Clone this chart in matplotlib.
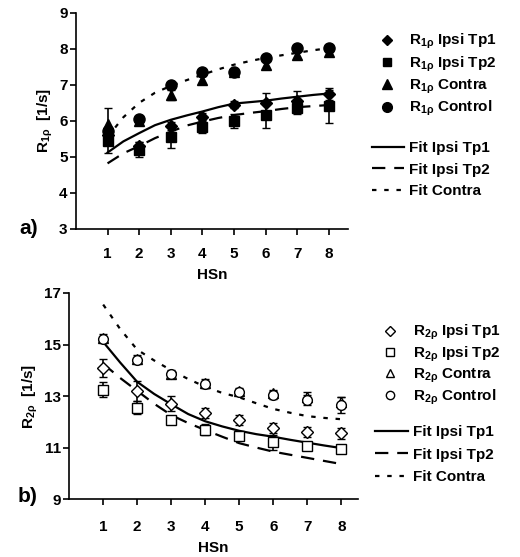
import numpy as np
import matplotlib
matplotlib.use("Agg")
import matplotlib.pyplot as plt
from matplotlib.lines import Line2D

plt.rcParams['font.family'] = ['Liberation Sans', 'DejaVu Sans']
plt.rcParams['font.weight'] = 'bold'
plt.rcParams['mathtext.fontset'] = 'custom'
plt.rcParams['mathtext.rm'] = 'Liberation Sans:bold'
plt.rcParams['mathtext.bf'] = 'Liberation Sans:bold'
plt.rcParams['mathtext.it'] = 'Liberation Sans:bold'

hsn = [1, 2, 3, 4, 5, 6, 7, 8]

# panel a: R1rho
r1_tp1 = [5.6, 5.3, 5.86, 6.12, 6.45, 6.5, 6.55, 6.75]
r1_tp1_err = [0.1, 0.1, 0.1, 0.1, 0.1, 0.28, 0.28, 0.17]
r1_tp2 = [5.45, 5.2, 5.55, 5.83, 6.0, 6.15, 6.35, 6.4]
r1_tp2_err = [0.35, 0.2, 0.3, 0.17, 0.2, 0.35, 0.15, 0.45]
r1_contra = [5.9, 6.0, 6.72, 7.14, 7.36, 7.55, 7.83, 7.92]
r1_contra_err = [0.45, 0.1, 0.15, 0.1, 0.08, 0.1, 0.1, 0.08]
r1_control = [5.72, 6.05, 7.0, 7.36, 7.36, 7.75, 8.03, 8.03]
r1_control_err = [0.1, 0.08, 0.08, 0.06, 0.06, 0.06, 0.05, 0.05]

fit_x = [1, 1.5, 2, 2.5, 3, 3.5, 4, 4.5, 5, 5.5, 6, 6.5, 7, 7.5, 8]
r1_fit_tp1 = [5.12, 5.43, 5.66, 5.88, 6.03, 6.15, 6.26, 6.38, 6.48, 6.52, 6.56, 6.62, 6.67, 6.72, 6.76]
r1_fit_tp2 = [4.82, 5.1, 5.3, 5.52, 5.7, 5.87, 5.98, 6.08, 6.16, 6.22, 6.27, 6.33, 6.38, 6.41, 6.44]
r1_fit_contra = [5.55, 6.1, 6.5, 6.78, 6.97, 7.13, 7.28, 7.43, 7.56, 7.66, 7.75, 7.82, 7.89, 7.96, 8.02]

# panel b: R2rho
r2_tp1 = [14.1, 13.2, 12.7, 12.33, 12.07, 11.77, 11.6, 11.55]
r2_tp1_err = [0.35, 0.4, 0.3, 0.2, 0.2, 0.2, 0.2, 0.2]
r2_tp2 = [13.25, 12.55, 12.07, 11.7, 11.45, 11.2, 11.05, 10.95]
r2_tp2_err = [0.3, 0.25, 0.12, 0.2, 0.15, 0.28, 0.15, 0.12]
r2_contra = [15.25, 14.45, 13.85, 13.5, 13.2, 13.1, 12.95, 12.75]
r2_contra_err = [0.15, 0.15, 0.15, 0.15, 0.1, 0.15, 0.2, 0.2]
r2_control = [15.2, 14.4, 13.85, 13.45, 13.15, 13.05, 12.85, 12.65]
r2_control_err = [0.1, 0.1, 0.1, 0.15, 0.1, 0.15, 0.2, 0.3]

r2_fit_tp1 = [15.1, 14.3, 13.55, 13.08, 12.68, 12.3, 12.02, 11.82, 11.65, 11.52, 11.42, 11.3, 11.19, 11.08, 10.98]
r2_fit_tp2 = [14.25, 13.7, 13.2, 12.7, 12.26, 11.95, 11.68, 11.42, 11.17, 11.0, 10.84, 10.72, 10.6, 10.48, 10.36]
r2_fit_contra = [16.55, 15.6, 14.8, 14.38, 14.0, 13.66, 13.36, 13.12, 12.95, 12.72, 12.5, 12.35, 12.22, 12.15, 12.1]

fig = plt.figure(figsize=(5.2, 5.57), dpi=100)
ax1 = fig.add_axes([0.146, 0.589, 0.523, 0.388])
ax2 = fig.add_axes([0.133, 0.104, 0.556, 0.370])

ls_dash = (0, (6, 4))
ls_dot = (0, (2, 3.5))


def style_axis(ax, xmax, yticks, xpad):
    ax.spines['top'].set_visible(False)
    ax.spines['right'].set_visible(False)
    ax.spines['left'].set_linewidth(1.2)
    ax.spines['bottom'].set_linewidth(1.2)
    ax.set_xlim(0, xmax)
    ax.set_xticks(hsn)
    ax.set_yticks(yticks)
    ax.set_ylim(yticks[0], yticks[-1])
    ax.tick_params(axis='x', length=4, width=1.2, pad=xpad, labelsize=11)
    ax.tick_params(axis='y', length=4, width=1.2, pad=2, labelsize=11)
    for lab in ax.get_xticklabels() + ax.get_yticklabels():
        lab.set_fontweight('bold')
    ax.set_xlabel('HSn', fontsize=11, fontweight='bold', labelpad=5)


def draw_panel(ax, series, fits, filled):
    markers = ['D', 's', '^', 'o']
    sizes = [6, 7, 7.5, 8] if filled else [6, 7, 7, 7]
    handles = []
    for (vals, errs), m, s in zip(series, markers, sizes):
        ax.errorbar(hsn, vals, yerr=errs, fmt=m, ms=s, color='black',
                    mfc='black' if filled else 'white', mec='black',
                    mew=1.0, ecolor='black', elinewidth=1.2, capsize=3,
                    capthick=1.2, zorder=3)
        handles.append(Line2D([], [], marker=m, ls='none', color='black',
                              mfc='black' if filled else 'white', mec='black',
                              ms=s - 1))
    lhs = []
    for vals, ls in zip(fits, ['-', ls_dash, ls_dot]):
        ax.plot(fit_x, vals, color='black', lw=1.6, ls=ls, zorder=2)
        lhs.append(Line2D([], [], color='black', lw=1.6, ls=ls))
    return handles, lhs


h1, l1 = draw_panel(ax1, [(r1_tp1, r1_tp1_err), (r1_tp2, r1_tp2_err),
                          (r1_contra, r1_contra_err), (r1_control, r1_control_err)],
                    [r1_fit_tp1, r1_fit_tp2, r1_fit_contra], True)
h2, l2 = draw_panel(ax2, [(r2_tp1, r2_tp1_err), (r2_tp2, r2_tp2_err),
                          (r2_contra, r2_contra_err), (r2_control, r2_control_err)],
                    [r2_fit_tp1, r2_fit_tp2, r2_fit_contra], False)

style_axis(ax1, 8.6, [3, 4, 5, 6, 7, 8, 9], 9)
style_axis(ax2, 8.5, [9, 11, 13, 15, 17], 11)

ax1.set_ylabel(r'R$_{1ρ}$  [1/s]', fontsize=11, fontweight='bold', labelpad=3)
ax2.set_ylabel(r'R$_{2ρ}$  [1/s]', fontsize=11, fontweight='bold', labelpad=3)

fig.text(0.055, 1 - 228 / 557, 'a)', fontsize=15, fontweight='bold', ha='center', va='center')
fig.text(0.052, 1 - 497 / 557, 'b)', fontsize=15, fontweight='bold', ha='center', va='center')

lab1 = [r'R$_{1ρ}$ Ipsi Tp1', r'R$_{1ρ}$ Ipsi Tp2', r'R$_{1ρ}$ Contra', r'R$_{1ρ}$ Control']
lab2 = [r'R$_{2ρ}$ Ipsi Tp1', r'R$_{2ρ}$ Ipsi Tp2', r'R$_{2ρ}$ Contra', r'R$_{2ρ}$ Control']
fit_labels = ['Fit Ipsi Tp1', 'Fit Ipsi Tp2', 'Fit Contra']

common = dict(frameon=False, prop={'weight': 'bold', 'size': 11},
              bbox_transform=fig.transFigure, loc='upper left', borderpad=0,
              borderaxespad=0)

leg = ax1.legend(h1, lab1, bbox_to_anchor=(379 / 520, 1 - 32 / 557),
                 handlelength=1.0, handletextpad=0.95, labelspacing=0.22, **common)
ax1.add_artist(leg)
ax1.legend(l1, fit_labels, bbox_to_anchor=(372 / 520, 1 - 141 / 557),
           handlelength=2.1, handletextpad=0.33, labelspacing=0.5, **common)

leg = ax2.legend(h2, lab2, bbox_to_anchor=(382 / 520, 1 - 323 / 557),
                 handlelength=1.0, handletextpad=1.0, labelspacing=0.17, **common)
ax2.add_artist(leg)
ax2.legend(l2, fit_labels, bbox_to_anchor=(375 / 520, 1 - 425 / 557),
           handlelength=2.15, handletextpad=0.33, labelspacing=0.56, **common)

fig.savefig('out.png', dpi=100)
